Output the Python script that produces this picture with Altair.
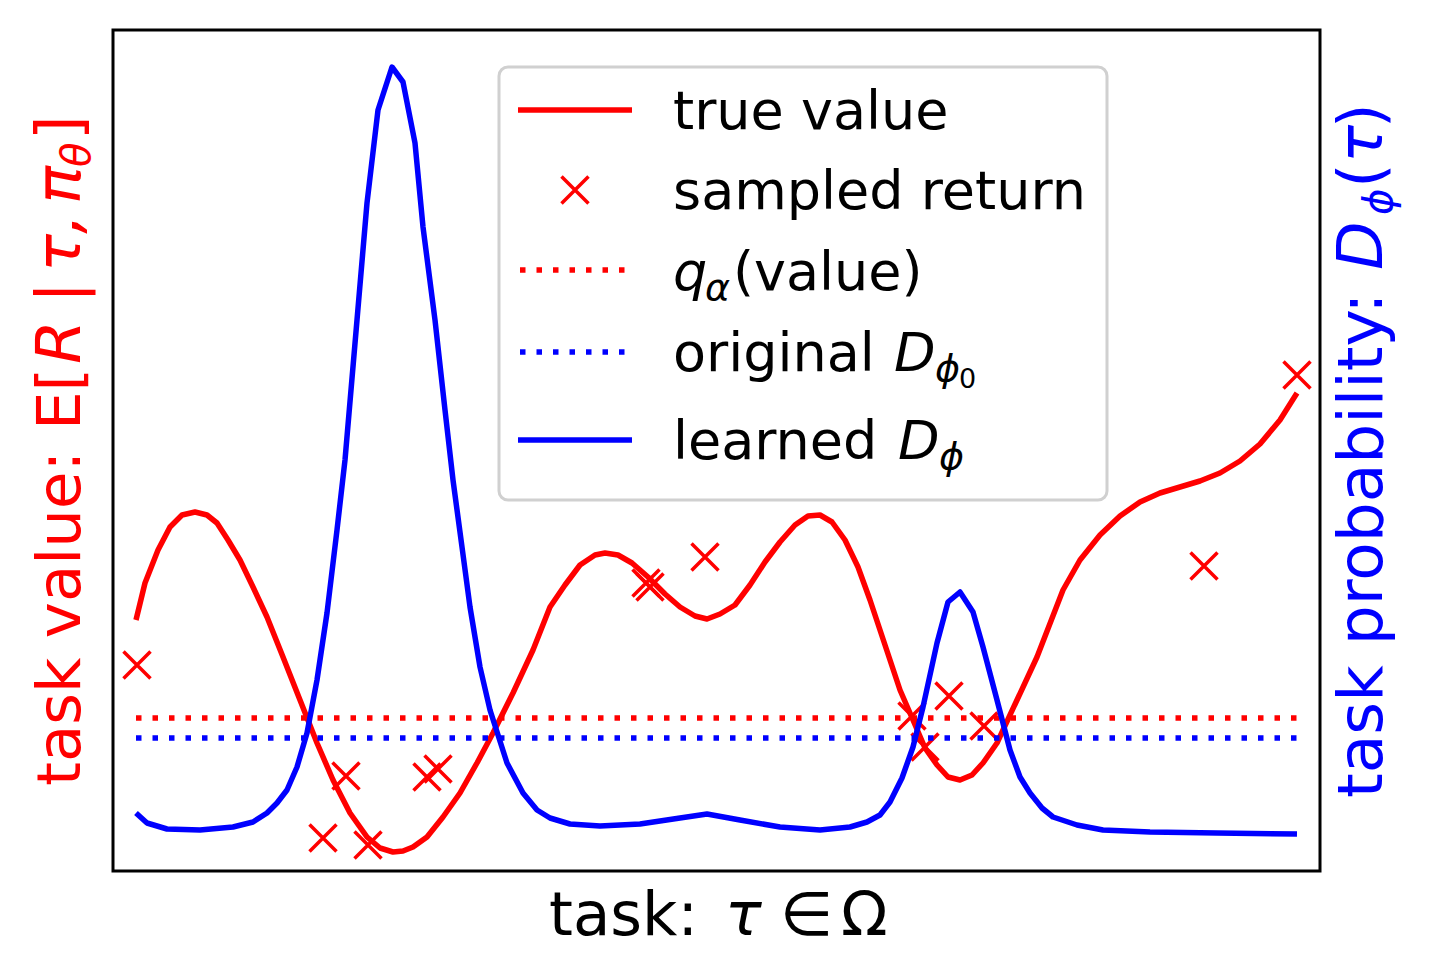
import altair as alt
import pandas as pd

# ---- data (x = task, y = value units) ----
task_red = [0, 9, 22, 34, 46, 59, 71, 81, 92, 104, 117, 131, 147, 164, 181, 197, 214, 231, 244, 257,
            267, 277, 291, 307, 324, 341, 357, 377, 397, 414, 429, 444, 459, 469, 482, 496, 512, 529,
            544, 559, 571, 584, 599, 614, 629, 644, 659, 672, 684, 696, 709, 722, 734, 749, 764, 777,
            789, 801, 812, 824, 836, 847, 861, 881, 901, 927, 944, 964, 984, 1004, 1024, 1044, 1064,
            1084, 1104, 1124, 1144, 1161]
value_red = [251, 288, 321, 344, 356, 359, 356, 348, 331, 311, 284, 254, 214, 171, 128, 91, 58, 34, 23, 19,
             20, 24, 34, 54, 78, 108, 138, 178, 221, 264, 286, 306, 316, 318, 316, 308, 294, 277,
             264, 255, 252, 257, 266, 286, 309, 329, 346, 355, 356, 349, 331, 304, 271, 226, 181, 151,
             123, 106, 94, 91, 96, 108, 128, 171, 214, 281, 311, 336, 355, 369, 378, 384, 390,
             398, 410, 427, 451, 478]

task_blue = [0, 11, 31, 64, 97, 117, 131, 141, 151, 161, 171, 181, 191, 201, 209, 221, 231, 242, 256, 267,
             279, 287, 299, 309, 317, 326, 334, 344, 354, 371, 387, 401, 414, 434, 464, 504, 544, 571,
             604, 644, 684, 714, 731, 744, 754, 766, 777, 787, 801, 812, 824, 837, 847, 861, 874, 884,
             894, 906, 917, 941, 967, 1014, 1081, 1161]
prob_blue = [58, 48, 42, 41, 44, 49, 58, 68, 81, 104, 138, 191, 258, 341, 411, 551, 668, 761, 804, 789,
             728, 644, 551, 461, 391, 324, 264, 204, 161, 108, 78, 61, 53, 47, 45, 47, 53, 57,
             51, 44, 41, 44, 49, 56, 69, 93, 124, 164, 228, 269, 279, 259, 224, 171, 121, 94,
             78, 63, 54, 46, 41, 39, 38, 37]

sample_task = [1, 187, 210, 232, 291, 302, 510, 514, 569, 776, 789, 813, 848, 1068, 1161]
sample_return = [206, 33, 95, 26, 94, 102, 288, 284, 314, 155, 124, 175, 145, 305, 496]

q_alpha_value = 153
original_D = 133
task_range = [0, 1161]

x_domain = [-23, 1184]
y_domain = [0, 841]

RED = "#ff0000"
BLUE = "#0000ff"
FONT = "DejaVu Sans"
AX = 61
AXR = 63
LG = 54
SUB = 38
SUBR = 40
SUBSUB = 27
CROSS = "M-1,-1L1,1M-1,1L1,-1"
LW = 5.5

xs = alt.Scale(domain=x_domain, nice=False, zero=False)
ys = alt.Scale(domain=y_domain, nice=False, zero=False)

red_df = pd.DataFrame({"task": task_red, "value": value_red})
blue_df = pd.DataFrame({"task": task_blue, "value": prob_blue})
samp_df = pd.DataFrame({"task": sample_task, "value": sample_return})
q_df = pd.DataFrame({"task": task_range, "value": [q_alpha_value] * 2})
o_df = pd.DataFrame({"task": task_range, "value": [original_D] * 2})
one = pd.DataFrame({"k": [0]})

X = alt.X("task:Q", scale=xs, axis=None)
Y = alt.Y("value:Q", scale=ys, axis=None)

red_line = alt.Chart(red_df).mark_line(color=RED, strokeWidth=LW, strokeJoin="round").encode(x=X, y=Y)
samples = alt.Chart(samp_df).mark_point(shape=CROSS, size=729, color=RED, strokeWidth=3.5,
                                        filled=False, opacity=1).encode(x=X, y=Y)
q_line = alt.Chart(q_df).mark_line(color=RED, strokeWidth=5.5, strokeDash=[5.5, 11],
                                   strokeCap="butt").encode(x=X, y=Y)
o_line = alt.Chart(o_df).mark_line(color=BLUE, strokeWidth=5.5, strokeDash=[5.5, 11],
                                   strokeCap="butt").encode(x=X, y=Y)
blue_line = alt.Chart(blue_df).mark_line(color=BLUE, strokeWidth=LW, strokeJoin="round").encode(x=X, y=Y)


def txt(s, x, y, size, color="black", italic=False, angle=0):
    kw = dict(text=s, font=FONT, fontSize=size, color=color, align="left",
              baseline="alphabetic", angle=angle)
    if italic:
        kw["fontStyle"] = "italic"
    return alt.Chart(one).mark_text(**kw).encode(x=alt.value(x), y=alt.value(y))


texts = []
# x-axis title
texts += [txt("task:", 436, 905, AX), txt("τ", 612, 905, AX, italic=True),
          txt("∈", 667, 905, AX), txt("Ω", 728, 905, AX)]
# left axis title (rotated)
LX = -33
texts += [txt("task value:", LX, 756, AX, RED, angle=270),
          txt("E[", LX, 400, AX, RED, angle=270),
          txt("R", LX, 334, AXR, RED, True, 270),
          txt("|", LX, 273, AXR, RED, angle=270),
          txt("τ,", LX, 242, AXR, RED, True, 270),
          txt("π", LX, 174, AXR, RED, True, 270),
          txt("θ", LX + 10, 137, SUBR, RED, True, 270),
          txt("]", LX, 110, AXR, RED, angle=270)]
# right axis title (rotated)
RX = 1269
texts += [txt("task probability:", RX, 768, AXR, BLUE, angle=270),
          txt("D", RX, 240, AXR, BLUE, True, 270),
          txt("ϕ", RX + 10, 185, SUBR, BLUE, True, 270),
          txt("(", RX, 158, AXR, BLUE, angle=270),
          txt("τ", RX, 133, AXR, BLUE, True, 270),
          txt(")", RX, 98, AXR, BLUE, angle=270)]

# legend
box = alt.Chart(one).mark_rect(fill="white", fillOpacity=0.85, stroke="#d0d0d0", strokeWidth=3,
                               cornerRadius=9).encode(
    x=alt.value(386), x2=alt.value(994), y=alt.value(37), y2=alt.value(470))
lg = [box]
lg.append(alt.Chart(one).mark_rule(color=RED, strokeWidth=LW).encode(
    x=alt.value(405), x2=alt.value(519), y=alt.value(80)))
lg.append(alt.Chart(one).mark_point(shape=CROSS, size=729, color=RED, strokeWidth=3.5,
                                    filled=False, opacity=1).encode(x=alt.value(462), y=alt.value(160)))
lg.append(alt.Chart(one).mark_rule(color=RED, strokeWidth=5.5, strokeDash=[5.5, 11], strokeCap="butt").encode(
    x=alt.value(407), x2=alt.value(519), y=alt.value(240)))
lg.append(alt.Chart(one).mark_rule(color=BLUE, strokeWidth=5.5, strokeDash=[5.5, 11], strokeCap="butt").encode(
    x=alt.value(407), x2=alt.value(519), y=alt.value(322)))
lg.append(alt.Chart(one).mark_rule(color=BLUE, strokeWidth=LW).encode(
    x=alt.value(405), x2=alt.value(519), y=alt.value(410)))
TX = 560
lg += [txt("true value", TX, 99, LG),
       txt("sampled return", TX, 179, LG),
       txt("q", TX, 260, LG, italic=True),
       txt("α", TX + 32, 270, SUB, italic=True),
       txt("(value)", TX + 60, 260, LG),
       txt("original", TX, 341, LG),
       txt("D", 781, 341, LG, italic=True),
       txt("ϕ", 822, 351, SUB, italic=True),
       txt("0", 846, 358, SUBSUB),
       txt("learned", TX, 429, LG),
       txt("D", 785, 429, LG, italic=True),
       txt("ϕ", 826, 439, SUB, italic=True)]

chart = alt.layer(red_line, samples, q_line, o_line, blue_line, *texts, *lg).properties(
    width=1207, height=841,
    autosize=alt.AutoSizeParams(type="none"),
    padding={"left": 105, "top": 22, "right": 100, "bottom": 90},
).configure_view(stroke="black", strokeWidth=3)

chart.save("out.html", embed_options={"renderer": "svg", "actions": False})
